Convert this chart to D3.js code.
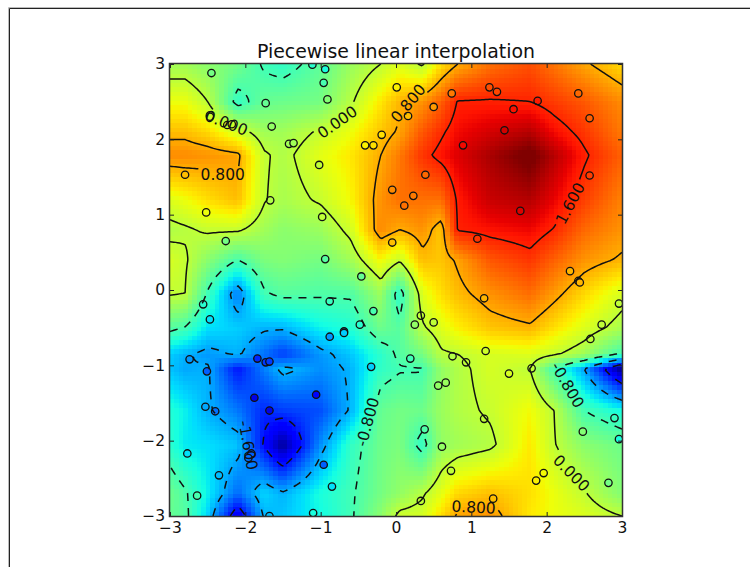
<!DOCTYPE html>
<html><head><meta charset="utf-8">
<script src="https://cdn.jsdelivr.net/npm/d3@7"></script>
<style>html,body{margin:0;padding:0;background:#fff;overflow:hidden}svg{display:block;font-family:"DejaVu Sans",sans-serif}</style>
</head><body><div id="c"></div>
<script>
const titleText = "Piecewise linear interpolation";
const tickValues = [-3,-2,-1,0,1,2,3];
const levels = [-2.4,-1.6,-0.8,0,0.8,1.6];
const colorDomain = [-3.2,2.3];
// knots of the piecewise linear surface
const knotX = [-3,-2.8,-2.5,-2.1,-1.75,-1.5,-1,-0.6,-0.2,0.05,0.35,0.6,0.82,1.25,1.78,2.1,2.5,3];
const knotY = [3,2.5,2.1,1.79,1.2,0.8,0.4,-0.05,-0.5,-0.85,-1.05,-1.6,-2.05,-2.7,-3];
const knotZ = [
[-0.2,-0.2,-0.35,-0.5,-0.85,-0.95,-0.65,-0.25,0,0.2,-0.05,0.5,0.8,1.15,1.35,1.13,0.85,0.55],
[0.3,0.3,0,-0.95,-0.6,-0.55,-0.5,-0.05,0.45,0.75,0.95,1.25,1.62,1.63,1.6,1.47,1.3,1.0],
[0.7,0.7,0.55,0.15,-0.2,-0.2,0.05,0.3,0.65,0.85,1.3,1.55,1.75,1.9,2.05,1.75,1.5,1.1],
[1,1,0.95,0.87,0.05,-0.1,0.25,0.45,0.8,1.1,1.5,1.7,1.85,2.1,2.4,2.05,1.65,1.25],
[0.2,0.3,0.5,0.7,0.03,-0.15,0.05,0.35,0.95,1.15,1.15,1.15,1.65,1.95,2.05,1.8,1.45,1.05],
[-0.1,-0.05,0.05,0.05,-0.2,-0.35,-0.25,0.1,1.0,0.8,0.95,0.65,1.62,1.7,1.77,1.58,1.2,0.95],
[0.15,0.05,-0.35,-0.8,-0.45,-0.4,-0.5,-0.2,0.35,0.05,0.7,0.65,0.85,1.3,1.5,1.25,0.95,0.75],
[0.03,0,-0.85,-1.85,-0.85,-0.7,-0.75,-0.75,-0.25,-1,0.2,0.5,0.7,0.95,1.17,0.9,0.55,0.15],
[-0.7,-0.82,-1.3,-1.4,-1.55,-1.55,-1.2,-1.05,-0.55,-0.7,-0.05,0.2,0.4,0.65,0.75,0.5,0.2,-0.15],
[-1.4,-1.55,-1.7,-1.55,-1.9,-2.2,-1.7,-1.45,-1,-0.72,-0.5,-0.05,0,0.15,0.2,0.05,-0.2,-0.85],
[-1.45,-1.6,-1.55,-2.4,-1.85,-1.5,-1.75,-1.55,-0.95,-0.83,-0.82,-0.3,-0.1,0.15,0,-0.8,-1.6,-3.1],
[-1.05,-1.2,-1.55,-1.85,-2.3,-2.2,-2.1,-1.55,-0.6,-0.5,-0.55,-0.25,-0.1,0.05,0.35,0,-0.8,-1.1],
[-1,-1.25,-1.3,-1.45,-2.45,-3.1,-1.75,-0.95,-0.55,-0.45,-0.95,-0.3,-0.2,-0.08,0.45,0.02,-0.35,-0.55],
[-0.55,-0.75,-1.2,-1.95,-1.35,-1.55,-1.1,-0.85,-0.5,-0.3,-0.05,0.25,0.55,0.7,0.5,0.3,0.03,-0.4],
[-0.6,-0.7,-1.35,-2.75,-1.55,-1.45,-1.15,-0.85,-0.35,0.1,0.15,0.5,0.85,0.95,0.45,0.3,0.2,0]
];
// scattered samples
const pointX = [-2.45,-2.47,-2.47,-2.24,-2.18,-1.73,-1.65,-1.42,-1.36,-0.96,-0.91,-0.94,-1.11,-1.02,-2.8,-2.52,-1.67,-0.98,-2.26,-0.94,-0.46,0.01,-0.19,-0.41,-0.3,-0.05,-0.05,0.5,0.74,1.24,1.34,1.88,1.56,1.44,0.89,0.39,0.23,0.11,1.65,1.08,2.42,2.57,2.57,2.31,2.42,2.44,0.16,-2.56,-2.47,-2.74,-2.51,-1.84,-1.73,-1.68,-0.88,-0.3,-0.48,-0.69,-0.69,-0.88,-0.33,-1.06,-1.88,-1.68,-2.53,-2.4,-2.77,-1.92,-1.96,-2.35,-2.64,-0.96,-0.85,-1.1,-1.68,1.17,0.33,0.25,0.5,0.19,0.75,0.93,1.19,1.5,1.8,2.58,2.73,2.96,0.66,0.56,1.17,0.38,0.61,0.73,0.33,1.29,1.86,1.96,2.48,2.82,2.9,2.96];
const pointY = [2.88,2.32,2.3,2.19,2.2,2.48,2.17,1.94,1.95,2.75,2.53,2.93,2.99,1.66,1.53,1.03,1.19,0.97,0.65,0.41,0.18,2.69,2.06,1.92,1.92,1.33,0.63,2.43,2.61,2.69,2.63,2.51,2.4,2.12,1.92,1.53,1.25,1.12,1.05,0.68,2.61,2.28,1.52,0.25,0.12,0.1,2.31,-0.19,-0.39,-0.92,-1.08,-0.91,-0.96,-0.95,-0.15,-0.28,-0.46,-0.55,-0.57,-0.62,-1.02,-1.39,-1.43,-1.6,-1.55,-1.61,-2.17,-2.17,-2.23,-2.46,-2.73,-2.32,-2.61,-2.96,-3,-0.11,-0.34,-0.46,-0.43,-0.91,-0.88,-0.96,-0.81,-1.11,-1.04,-0.65,-0.46,-0.18,-1.23,-1.27,-1.71,-1.85,-2.08,-2.4,-2.8,-2.77,-2.53,-2.43,-1.88,-2.56,-1.7,-1.98];
const pointZ = [-0.5,0.1,0.1,0.1,0.1,-0.6,-0.3,-0.2,-0.2,-0.8,-0.4,-1.1,-1,0,0.7,0.3,-0.1,0,-0.5,-0.7,-0.6,0.4,0.5,0.4,0.5,1,0.7,0.9,1.1,1.35,1.4,1.65,1.7,1.9,1.75,1.2,1.1,1.15,1.85,1.5,1.2,1.25,1.45,0.75,0.8,0.75,0.7,-1,-1.3,-1.7,-2,-2.3,-2.2,-2.2,-0.9,-0.8,-1,-1.4,-1.4,-1.7,-1.4,-2.5,-2.7,-2.7,-1.6,-1.9,-1.3,-2,-1.9,-1.5,-0.8,-2,-1.3,-1.1,-1.5,0.75,0,-0.3,0,-0.85,-0.1,0,0.1,0.15,0,0,0,0,-0.25,-0.3,0,-0.75,-0.3,0,0,0.7,0.4,0.35,-0.4,-0.5,-0.9,-1.1];
// inline contour labels
const labelText = ["0.000","0.800","0.000","0.800","1.600","-0.800","0.000","0.800","-1.600","-0.800"];
const labelLevel = [0,0.8,0,0.8,1.6,-0.8,0,0.8,-1.6,-0.8];
const labelX = [-2.25,-2.3,-0.78,0.16,2.31,2.28,2.33,1.03,-1.96,-0.38];
const labelY = [2.22,1.53,2.23,2.48,1.15,-1.26,-2.43,-2.88,-2.06,-1.75];
const labelAngle = [21,0,-35,-50,-62,60,45,3,80,-75];

const W=750,H=567,L=170,R=622,T=64,B=516;
const x=d3.scaleLinear().domain([-3,3]).range([L,R]);
const y=d3.scaleLinear().domain([-3,3]).range([B,T]);
const jetR=d3.scaleLinear().domain([0,.35,.66,.89,1]).range([0,0,1,1,.5]).clamp(true);
const jetG=d3.scaleLinear().domain([0,.125,.375,.64,.91,1]).range([0,0,1,1,0,0]).clamp(true);
const jetB=d3.scaleLinear().domain([0,.11,.34,.65,1]).range([.5,1,1,0,0]).clamp(true);
const norm=d3.scaleLinear().domain(colorDomain).range([0,1]).clamp(true);
const jet=z=>{const t=norm(z);return d3.rgb(jetR(t)*255,jetG(t)*255,jetB(t)*255).formatRgb();};
const ix=d3.scaleLinear().domain(knotX).range(knotX.map((d,i)=>i)).clamp(true);
const iy=d3.scaleLinear().domain(knotY.slice().reverse()).range(knotY.map((d,i)=>knotY.length-1-i)).clamp(true);
function surface(a,b){
  const u=ix(a),v=iy(b);
  const i=Math.min(Math.floor(u),knotX.length-2),j=Math.min(Math.floor(v),knotY.length-2);
  const s=u-i,t=v-j;
  return (1-t)*((1-s)*knotZ[j][i]+s*knotZ[j][i+1])+t*((1-s)*knotZ[j+1][i]+s*knotZ[j+1][i+1]);
}
const svg=d3.select("#c").append("svg").attr("width",W).attr("height",H);
svg.append("rect").attr("width",W).attr("height",H).attr("fill","#fff");
// figure edge
svg.append("path").attr("d",`M9.5 ${H}V8.5H${W}`).attr("fill","none").attr("stroke","#222");
svg.append("path").attr("d",`M8.5 ${H}V7.5H${W}`).attr("fill","none").attr("stroke","#bbb");
svg.append("defs").append("clipPath").attr("id","plot").append("rect").attr("x",L).attr("y",T).attr("width",R-L).attr("height",B-T);

// pcolor cells
const N=100, cells=[];
const edge=d3.scaleLinear().domain([0,N]).range([-3,3]);
for(let j=0;j<N;j++)for(let i=0;i<N;i++)cells.push({i,j,z:surface(edge(i+.5),edge(j+.5))});
svg.append("g").attr("shape-rendering","crispEdges").selectAll("rect").data(cells).join("rect")
  .attr("x",d=>Math.floor(x(edge(d.i))))
  .attr("y",d=>Math.floor(y(edge(d.j+1))))
  .attr("width",d=>Math.ceil(x(edge(d.i+1)))-Math.floor(x(edge(d.i))))
  .attr("height",d=>Math.ceil(y(edge(d.j)))-Math.floor(y(edge(d.j+1))))
  .attr("fill",d=>jet(d.z));

const clipG=svg.append("g").attr("clip-path","url(#plot)");
// scatter
clipG.append("g").selectAll("circle").data(pointX.map((d,i)=>i)).join("circle")
  .attr("cx",i=>x(pointX[i])).attr("cy",i=>y(pointY[i])).attr("r",3.7)
  .attr("fill",i=>jet(pointZ[i])).attr("stroke","#111").attr("stroke-width",1.3);

// contours
const G=240, grid=new Float64Array(G*G);
const gx=d3.scaleLinear().domain([.5,G-.5]).range([-3,3]);
const gy=d3.scaleLinear().domain([.5,G-.5]).range([3,-3]);
for(let j=0;j<G;j++)for(let i=0;i<G;i++)grid[j*G+i]=surface(gx(i+.5),gy(j+.5));
const contours=d3.contours().size([G,G]).thresholds(levels)(grid);
const onEdge=p=>p[0]<=.5||p[0]>=G-.5||p[1]<=.5||p[1]>=G-.5;
const labelBoxes=labelText.map((t,i)=>({level:labelLevel[i],cx:x(labelX[i]),cy:y(labelY[i]),a:labelAngle[i]*Math.PI/180,hw:t.length*4.6+2,hh:8}));
function hidden(px,py,level){
  return labelBoxes.some(b=>{
    if(b.level!==level)return false;
    const dx=px-b.cx,dy=py-b.cy,c=Math.cos(b.a),s=Math.sin(b.a);
    return Math.abs(dx*c+dy*s)<b.hw&&Math.abs(-dx*s+dy*c)<b.hh;
  });
}
const line=d3.line();
contours.forEach(c=>{
  const pieces=[];
  c.coordinates.forEach(poly=>poly.forEach(ring=>{
    let cur=null;
    for(let k=1;k<ring.length;k++){
      const p=ring[k-1],q=ring[k];
      const a=[x(gx(p[0])),y(gy(p[1]))],b=[x(gx(q[0])),y(gy(q[1]))];
      const skip=(onEdge(p)&&onEdge(q))||hidden((a[0]+b[0])/2,(a[1]+b[1])/2,c.value);
      if(skip){cur=null;continue;}
      if(!cur){cur=[a];pieces.push(cur);}
      cur.push(b);
    }
  }));
  clipG.append("path").attr("d",pieces.map(line).join(""))
    .attr("fill","none").attr("stroke","#111").attr("stroke-width",1.5)
    .attr("stroke-dasharray",c.value<0?"8,7":null);
});
// labels
svg.append("g").selectAll("text").data(labelText.map((d,i)=>i)).join("text")
  .attr("transform",i=>`translate(${x(labelX[i])},${y(labelY[i])}) rotate(${labelAngle[i]})`)
  .attr("text-anchor","middle").attr("dy","0.36em").attr("font-size",15.5).attr("fill","#111")
  .text(i=>labelText[i]);

// axes
const fmt=d=>d<0?"\u2212"+(-d):""+d;
const ax=(gen,tx,ty)=>{const g=svg.append("g").attr("transform",`translate(${tx},${ty})`).call(gen);
  g.select(".domain").remove();g.selectAll("text").attr("font-size",15.5).attr("fill","#111").attr("font-family","DejaVu Sans");g.selectAll("line").attr("stroke","#222");return g;};
ax(d3.axisBottom(x).tickValues(tickValues).tickFormat(fmt).tickSize(-4).tickPadding(6),0,B);
ax(d3.axisLeft(y).tickValues(tickValues).tickFormat(fmt).tickSize(-4).tickPadding(5),L,0);
ax(d3.axisTop(x).tickValues(tickValues).tickFormat("").tickSize(-4),0,T);
ax(d3.axisRight(y).tickValues(tickValues).tickFormat("").tickSize(-4),R,0);
svg.append("rect").attr("x",L-.5).attr("y",T-.5).attr("width",R-L+1).attr("height",B-T+1).attr("fill","none").attr("stroke","#333").attr("stroke-width",1.5);
svg.append("text").attr("x",(L+R)/2).attr("y",T-6).attr("text-anchor","middle").attr("font-size",18.9).attr("fill","#111").text(titleText);
</script></body></html>
